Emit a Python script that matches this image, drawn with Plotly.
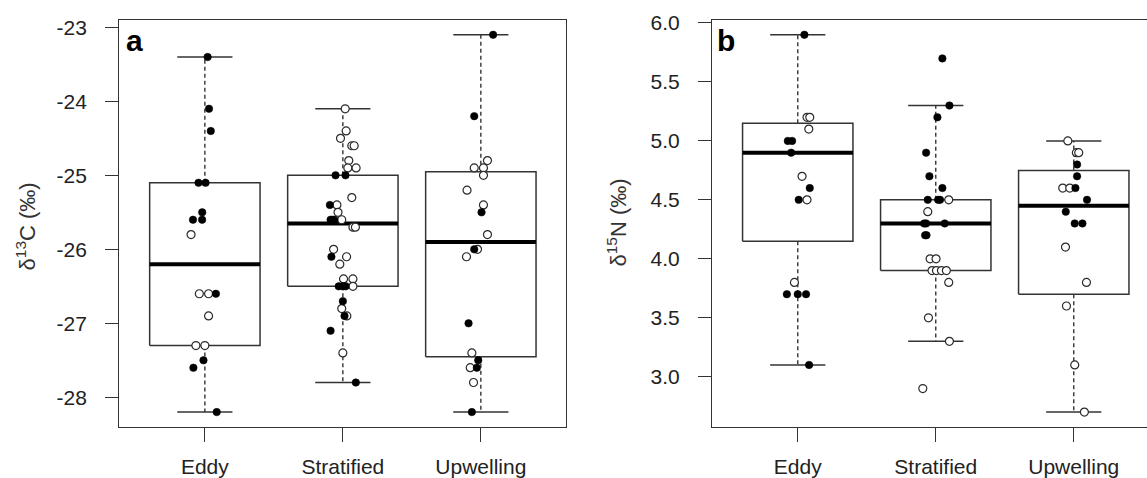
import plotly.graph_objects as go

categories = ["Eddy", "Stratified", "Upwelling"]

# ---------------- Panel a: d13C ----------------
c13_eddy = [-23.4, -24.1, -24.4, -25.1, -25.1, -25.5, -25.6, -25.6, -25.8, -26.6, -26.6, -26.6,
            -26.9, -27.3, -27.3, -27.5, -27.6, -28.2]
c13_eddy_filled = [1, 1, 1, 1, 1, 1, 1, 1, 0, 0, 0, 1, 0, 0, 0, 1, 1, 1]
c13_eddy_jitter = [0.02, 0.03, 0.043, -0.046, 0.005, -0.019, -0.086, -0.02, -0.1, -0.04, 0.027, 0.08,
                   0.027, -0.065, 0.0, -0.01, -0.083, 0.086]

c13_strat = [-24.1, -24.4, -24.5, -24.6, -24.6, -24.8, -24.9, -24.9, -25.0, -25.0, -25.3, -25.4,
             -25.4, -25.5, -25.6, -25.6, -25.6, -25.6, -25.7, -25.7, -26.0, -26.1, -26.1, -26.2,
             -26.4, -26.4, -26.5, -26.5, -26.5, -26.5, -26.7, -26.8, -26.9, -26.9, -27.1, -27.4, -27.8]
c13_strat_filled = [0, 0, 0, 0, 0, 0, 0, 0, 1, 1, 0, 1,
                    0, 0, 1, 1, 1, 0, 0, 0, 0, 1, 0, 0,
                    0, 0, 1, 1, 1, 0, 1, 0, 1, 0, 1, 0, 1]
c13_strat_jitter = [0.017, 0.024, -0.017, 0.065, 0.082, 0.043, 0.036, 0.096, -0.053, 0.019, 0.065, -0.094,
                    -0.043, -0.035, -0.089, -0.075, -0.062, -0.008, 0.073, 0.091, -0.067, -0.083, 0.027, -0.022,
                    0.005, 0.073, -0.03, 0.0, 0.02, 0.073, 0.0, -0.008, 0.012, 0.029, -0.089, 0.0, 0.094]

c13_upw = [-23.1, -24.2, -24.8, -24.9, -24.9, -25.0, -25.2, -25.4, -25.5, -25.8, -26.0, -26.0,
           -26.1, -27.0, -27.4, -27.5, -27.6, -27.6, -27.8, -28.2]
c13_upw_filled = [1, 1, 0, 0, 0, 0, 0, 0, 1, 0, 1, 0, 0, 1, 0, 1, 0, 1, 0, 1]
c13_upw_jitter = [0.089, -0.048, 0.048, -0.048, 0.019, 0.019, -0.1, 0.019, 0.005, 0.048, -0.048, -0.024,
                  -0.104, -0.089, -0.065, -0.019, -0.077, -0.029, -0.053, -0.065]

c13_lower = [-28.2, -27.8, -28.2]
c13_q1 = [-27.3, -26.5, -27.45]
c13_median = [-26.2, -25.65, -25.9]
c13_q3 = [-25.1, -25.0, -24.95]
c13_upper = [-23.4, -24.1, -23.1]
c13_ticks = [-28, -27, -26, -25, -24, -23]
c13_ticktext = ["-28", "-27", "-26", "-25", "-24", "-23"]

# ---------------- Panel b: d15N ----------------
n15_eddy = [5.9, 5.2, 5.2, 5.1, 5.0, 5.0, 4.9, 4.7, 4.6, 4.5, 4.5, 3.8, 3.7, 3.7, 3.7, 3.1]
n15_eddy_filled = [1, 0, 0, 0, 1, 1, 1, 0, 1, 1, 0, 0, 1, 1, 1, 1]
n15_eddy_jitter = [0.048, 0.067, 0.087, 0.08, -0.072, -0.041, -0.048, 0.031, 0.087, 0.007, 0.067,
                   -0.024, -0.079, 0.0, 0.06, 0.082]

n15_strat = [5.7, 5.3, 5.2, 4.9, 4.7, 4.6, 4.5, 4.5, 4.5, 4.5, 4.4, 4.3, 4.3, 4.3, 4.2, 4.2,
             4.0, 4.0, 3.9, 3.9, 3.9, 3.9, 3.8, 3.5, 3.3, 2.9]
n15_strat_filled = [1, 1, 1, 1, 1, 1, 1, 1, 1, 0, 0, 1, 1, 1, 1, 1,
                    0, 0, 0, 0, 0, 0, 0, 0, 0, 0]
n15_strat_jitter = [0.048, 0.099, 0.012, -0.07, -0.046, 0.048, -0.058, 0.017, 0.031, 0.094, -0.058,
                    -0.084, -0.07, 0.065, -0.077, -0.067, -0.041, 0.002, -0.027, 0.005, 0.041, 0.077,
                    0.094, -0.053, 0.099, -0.094]

n15_upw = [5.0, 4.9, 4.9, 4.8, 4.7, 4.6, 4.6, 4.6, 4.5, 4.4, 4.3, 4.3, 4.1, 3.8, 3.6, 3.1, 2.7]
n15_upw_filled = [0, 0, 0, 1, 1, 0, 0, 1, 1, 1, 1, 1, 0, 0, 0, 0, 0]
n15_upw_jitter = [-0.043, 0.019, 0.036, 0.024, 0.024, -0.08, -0.029, 0.012, 0.096, -0.058, 0.007, 0.063,
                  -0.06, 0.092, -0.053, 0.007, 0.077]

n15_lower = [3.1, 3.3, 2.7]
n15_q1 = [4.15, 3.9, 3.7]
n15_median = [4.9, 4.3, 4.45]
n15_q3 = [5.15, 4.5, 4.75]
n15_upper = [5.9, 5.3, 5.0]
n15_ticks = [3.0, 3.5, 4.0, 4.5, 5.0, 5.5, 6.0]
n15_ticktext = ["3.0", "3.5", "4.0", "4.5", "5.0", "5.5", "6.0"]

# ---------------- styling ----------------
FONT = "Liberation Sans, Arial, Helvetica, sans-serif"
LINE = "#333333"
BOX_HALF = 0.4
STAPLE_HALF = 0.2
W, H = 1147, 478

fig = go.Figure()


def add_panel(xa, ya, groups, lo, q1, med, q3, hi):
    bx, by, mx, my, wx, wy, sx, sy = [], [], [], [], [], [], [], []
    for i in range(len(categories)):
        c = i + 1
        bx += [c - BOX_HALF, c + BOX_HALF, c + BOX_HALF, c - BOX_HALF, c - BOX_HALF, None]
        by += [q1[i], q1[i], q3[i], q3[i], q1[i], None]
        mx += [c - BOX_HALF, c + BOX_HALF, None]
        my += [med[i], med[i], None]
        wx += [c, c, None, c, c, None]
        wy += [q3[i], hi[i], None, q1[i], lo[i], None]
        sx += [c - STAPLE_HALF, c + STAPLE_HALF, None, c - STAPLE_HALF, c + STAPLE_HALF, None]
        sy += [hi[i], hi[i], None, lo[i], lo[i], None]
    common = dict(xaxis=xa, yaxis=ya, mode="lines", hoverinfo="skip", showlegend=False)
    fig.add_trace(go.Scatter(x=wx, y=wy, line=dict(color=LINE, width=1.4, dash="4px,3px"), **common))
    fig.add_trace(go.Scatter(x=sx, y=sy, line=dict(color=LINE, width=1.5), **common))
    fig.add_trace(go.Scatter(x=bx, y=by, line=dict(color=LINE, width=1.5), **common))
    fig.add_trace(go.Scatter(x=mx, y=my, line=dict(color="#000000", width=4), **common))

    fx, fy, ox, oy = [], [], [], []
    for i, (vals, fills, jit) in enumerate(groups):
        for v, f, j in zip(vals, fills, jit):
            if f:
                fx.append(i + 1 + j)
                fy.append(v)
            else:
                ox.append(i + 1 + j)
                oy.append(v)
    fig.add_trace(go.Scatter(x=ox, y=oy, xaxis=xa, yaxis=ya, mode="markers", hoverinfo="skip",
                             showlegend=False,
                             marker=dict(symbol="circle", size=8, color="white",
                                         line=dict(color="#2a2a2a", width=1.2))))
    fig.add_trace(go.Scatter(x=fx, y=fy, xaxis=xa, yaxis=ya, mode="markers", hoverinfo="skip",
                             showlegend=False,
                             marker=dict(symbol="circle", size=7.5, color="#000000",
                                         line=dict(color="#000000", width=0.5))))


add_panel("x", "y",
          [(c13_eddy, c13_eddy_filled, c13_eddy_jitter),
           (c13_strat, c13_strat_filled, c13_strat_jitter),
           (c13_upw, c13_upw_filled, c13_upw_jitter)],
          c13_lower, c13_q1, c13_median, c13_q3, c13_upper)
add_panel("x2", "y2",
          [(n15_eddy, n15_eddy_filled, n15_eddy_jitter),
           (n15_strat, n15_strat_filled, n15_strat_jitter),
           (n15_upw, n15_upw_filled, n15_upw_jitter)],
          n15_lower, n15_q1, n15_median, n15_q3, n15_upper)

tickfont = dict(family=FONT, size=21, color="#222222")
ydom = [48 / H, 466 / H]
xbase = dict(showgrid=False, zeroline=False, showline=True, linecolor=LINE, linewidth=1.4,
             ticks="outside", ticklen=14, tickwidth=1.4, tickcolor=LINE, tickfont=tickfont,
             tickvals=[1, 2, 3], ticktext=categories, ticklabelstandoff=6, fixedrange=True)
ybase = dict(showgrid=False, zeroline=False, showline=True, linecolor=LINE, linewidth=1.4,
             ticks="outside", ticklen=13, tickwidth=1.4, tickcolor=LINE, tickfont=tickfont,
             ticklabelstandoff=14, fixedrange=True, domain=ydom)

unit_px = 138.0
b_left = 712.2
fig.update_layout(
    width=W, height=H, autosize=False,
    margin=dict(l=0, r=0, t=0, b=0),
    paper_bgcolor="white", plot_bgcolor="white",
    showlegend=False,
    xaxis=dict(xbase, domain=[119.3 / W, 566.4 / W], range=[0.38, 3.62], anchor="y", mirror=True),
    yaxis=dict(ybase, range=[-28.404, -22.896], tickvals=c13_ticks, ticktext=c13_ticktext,
               anchor="x", mirror=True),
    xaxis2=dict(xbase, domain=[b_left / W, 1.0], range=[0.38, 0.38 + (W - b_left) / unit_px],
                anchor="y2", mirror=True),
    yaxis2=dict(ybase, range=[2.572, 6.028], tickvals=n15_ticks, ticktext=n15_ticktext,
                anchor="x2", mirror=False),
    annotations=[
        dict(text="<b>a</b>", x=124 / W, y=1 - 33.3 / H, xref="paper", yref="paper",
             xanchor="left", yanchor="middle", showarrow=False,
             font=dict(family=FONT, size=30, color="#000000")),
        dict(text="<b>b</b>", x=715 / W, y=1 - 33.3 / H, xref="paper", yref="paper",
             xanchor="left", yanchor="middle", showarrow=False,
             font=dict(family=FONT, size=30, color="#000000")),
        dict(text="δ<sup>13</sup>C (‰)", x=26 / W, y=1 - 224 / H, xref="paper", yref="paper",
             xanchor="center", yanchor="middle", textangle=-90, showarrow=False,
             font=dict(family=FONT, size=22, color="#333333")),
        dict(text="δ<sup>15</sup>N (‰)", x=617 / W, y=1 - 220 / H, xref="paper", yref="paper",
             xanchor="center", yanchor="middle", textangle=-90, showarrow=False,
             font=dict(family=FONT, size=22, color="#333333")),
    ],
)

fig.write_html("out.html", config={"displayModeBar": False})
